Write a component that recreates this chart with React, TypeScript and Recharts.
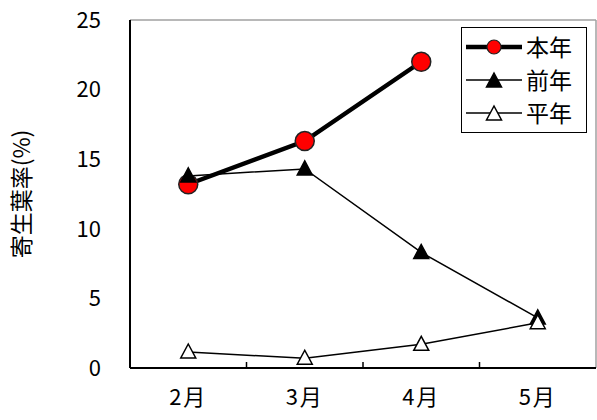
import React from 'react';
import { LineChart, Line, XAxis, YAxis, ReferenceLine } from 'recharts';

if (typeof document !== 'undefined') document.body.style.margin = '0';

const months = ['2月', '3月', '4月', '5月'];
const thisYear = [13.2, 16.3, 22.0, null];
const lastYear = [13.8, 14.3, 8.3, 3.6];
const normalYear = [1.15, 0.7, 1.7, 3.25];
const yTicks = [0, 5, 10, 15, 20, 25];

const data = months.map((m, i) => ({
  month: m,
  pos: i + 0.5,
  thisYear: thisYear[i],
  lastYear: lastYear[i],
  normalYear: normalYear[i],
}));

const FONT = '"Noto Sans CJK JP", "Noto Sans", sans-serif';
const NoTick = () => <g />;

const Triangle = (props: any) => {
  const { cx, cy, fill } = props;
  if (cx == null || cy == null) return null;
  return (
    <polygon
      points={`${cx},${cy - 8} ${cx - 7.5},${cy + 6} ${cx + 7.5},${cy + 6}`}
      fill={fill}
      stroke="#000"
      strokeWidth={1.5}
    />
  );
};

const LegendRow = ({ kind, label }: { kind: string; label: string }) => (
  <div style={{ display: 'flex', alignItems: 'center', height: 33 }}>
    <svg width={64} height={24}>
      <line x1={4} x2={60} y1={12} y2={12} stroke="#000" strokeWidth={kind === 'circle' ? 4.5 : 1.5} />
      {kind === 'circle' && <circle cx={32} cy={12} r={7} fill="#ff0000" stroke="#222" strokeWidth={1.2} />}
      {kind === 'filled' && <Triangle cx={32} cy={13} fill="#000" />}
      {kind === 'open' && <Triangle cx={32} cy={13} fill="#fff" />}
    </svg>
    <span style={{ fontFamily: FONT, fontSize: 23, lineHeight: '23px' }}>{label}</span>
  </div>
);

export default function App() {
  return (
    <div style={{ position: 'relative', width: 597, height: 420, background: '#fff' }}>
      <LineChart width={597} height={420} data={data} margin={{ top: 20, right: 1, bottom: 0, left: 0 }}>
        {/* inward tick marks at the category boundaries */}
        <XAxis
          xAxisId="grid"
          type="number"
          dataKey="pos"
          domain={[0, 4]}
          ticks={[1, 2, 3]}
          tick={NoTick}
          mirror
          tickSize={6}
          height={1}
          stroke="#000"
          axisLine={{ stroke: '#000', strokeWidth: 2 }}
          tickLine={{ stroke: '#000', strokeWidth: 1.5 }}
        />
        <XAxis
          xAxisId="cat"
          dataKey="month"
          scale="band"
          height={52}
          axisLine={false}
          tickLine={false}
          tickSize={0}
          tickMargin={21}
          tick={{ fill: '#000', fontSize: 22, fontFamily: FONT, letterSpacing: 2 }}
        />
        <YAxis
          yAxisId="grid"
          width={1}
          domain={[0, 25]}
          ticks={yTicks}
          tick={NoTick}
          mirror
          tickSize={6}
          stroke="#000"
          axisLine={{ stroke: '#000', strokeWidth: 2 }}
          tickLine={{ stroke: '#000', strokeWidth: 1.5 }}
        />
        <YAxis
          width={130}
          domain={[0, 25]}
          ticks={yTicks}
          axisLine={false}
          tickLine={false}
          tickSize={0}
          tickMargin={29}
          tick={{ fill: '#000', fontSize: 22, fontFamily: FONT }}
          label={{
            value: '寄生葉率(%)',
            angle: -90,
            position: 'insideLeft',
            offset: 22,
            style: { textAnchor: 'middle', fill: '#000', fontSize: 23, fontFamily: FONT },
          }}
        />
        <ReferenceLine xAxisId="grid" y={25} stroke="#a0a0a0" strokeWidth={1.5} />
        <ReferenceLine xAxisId="grid" x={4} stroke="#a0a0a0" strokeWidth={1.5} />
        <Line
          xAxisId="cat"
          dataKey="thisYear"
          stroke="#000"
          strokeWidth={4.5}
          dot={{ r: 9.5, fill: '#ff0000', stroke: '#222', strokeWidth: 1.5 }}
          isAnimationActive={false}
        />
        <Line
          xAxisId="cat"
          dataKey="lastYear"
          stroke="#000"
          strokeWidth={1.5}
          dot={<Triangle fill="#000" />}
          isAnimationActive={false}
        />
        <Line
          xAxisId="cat"
          dataKey="normalYear"
          stroke="#000"
          strokeWidth={1.5}
          dot={<Triangle fill="#fff" />}
          isAnimationActive={false}
        />
      </LineChart>
      <div
        style={{
          position: 'absolute',
          left: 461,
          top: 27,
          width: 124,
          height: 102,
          border: '1.5px solid #000',
          background: '#fff',
          boxSizing: 'content-box',
          paddingTop: 2,
        }}
      >
        <LegendRow kind="circle" label="本年" />
        <LegendRow kind="filled" label="前年" />
        <LegendRow kind="open" label="平年" />
      </div>
    </div>
  );
}
